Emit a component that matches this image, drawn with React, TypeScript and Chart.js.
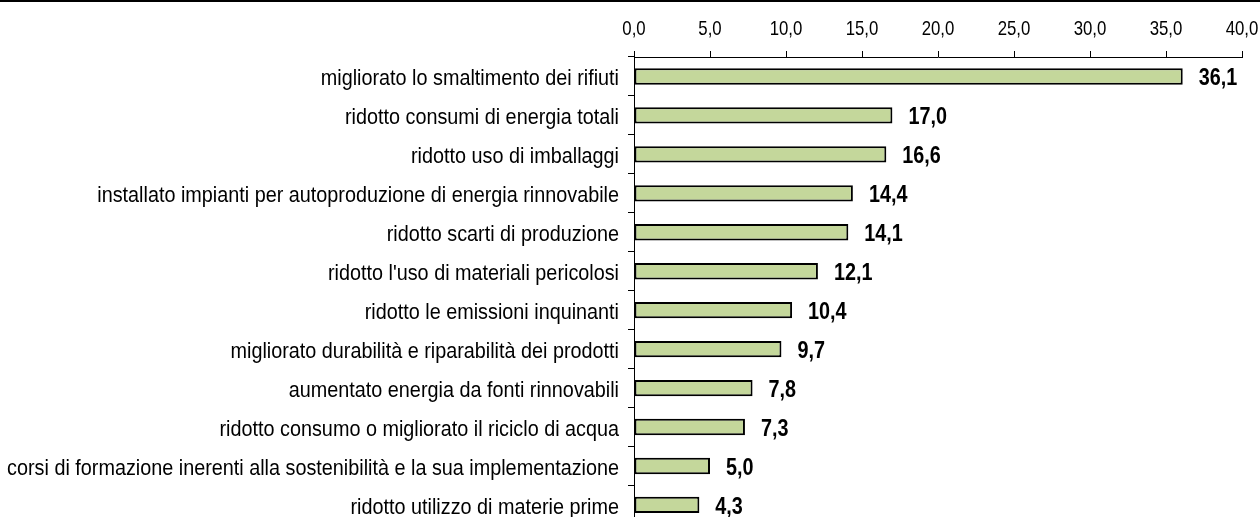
import React, { useEffect, useRef } from "react";
import { Chart, registerables } from "chart.js";

Chart.register(...registerables);

const categories: string[] = [
  "migliorato lo smaltimento dei rifiuti",
  "ridotto consumi di energia totali",
  "ridotto uso di imballaggi",
  "installato impianti per autoproduzione di energia rinnovabile",
  "ridotto scarti di produzione",
  "ridotto l'uso di materiali pericolosi",
  "ridotto le emissioni inquinanti",
  "migliorato durabilità e riparabilità dei prodotti",
  "aumentato energia da fonti rinnovabili",
  "ridotto consumo o migliorato il riciclo di acqua",
  "corsi di formazione inerenti alla sostenibilità e la sua implementazione",
  "ridotto utilizzo di materie prime",
];

const values: number[] = [36.1, 17.0, 16.6, 14.4, 14.1, 12.1, 10.4, 9.7, 7.8, 7.3, 5.0, 4.3];

const xMin = 0;
const xMax = 40;
const xStep = 5;

const FONT = "'Liberation Sans', Arial, sans-serif";

const fmt = (v: number) => v.toFixed(1).replace(".", ",");

function narrowText(ctx: any, text: string, x: number, y: number, sx: number, align: string) {
  ctx.save();
  ctx.translate(x, y);
  ctx.scale(sx, 1);
  ctx.textAlign = align;
  ctx.textBaseline = "alphabetic";
  ctx.fillText(text, 0, 0);
  ctx.restore();
}

const extras = {
  id: "extras",
  afterDraw(chart: any) {
    const ctx = chart.ctx;
    ctx.save();
    ctx.fillStyle = "#000";
    // top border line
    ctx.fillRect(0, 0, chart.width, 2);

    // x tick labels
    const xs = chart.scales.x;
    ctx.font = `21px ${FONT}`;
    xs.ticks.forEach((t: any) => {
      narrowText(ctx, fmt(t.value), xs.getPixelForValue(t.value), 35, 0.8, "center");
    });

    // y category labels
    const ys = chart.scales.y;
    ctx.font = `22px ${FONT}`;
    categories.forEach((c, i) => {
      narrowText(ctx, c, 619, ys.getPixelForTick(i) + 9, 0.9, "right");
    });

    // data labels
    const meta = chart.getDatasetMeta(0);
    ctx.font = `bold 23px ${FONT}`;
    meta.data.forEach((bar: any, i: number) => {
      narrowText(ctx, fmt(values[i]), bar.x + 16, bar.y + 9, 0.86, "left");
    });
    ctx.restore();
  },
};

export default function App() {
  const ref = useRef<HTMLCanvasElement | null>(null);
  useEffect(() => {
    if (!ref.current) return;
    const chart = new Chart(ref.current, {
      type: "bar",
      data: {
        labels: categories,
        datasets: [
          {
            data: values,
            backgroundColor: "#c4d79b",
            borderColor: "#000",
            borderWidth: 2,
            borderSkipped: false,
            categoryPercentage: 1,
            barPercentage: 0.42,
          },
        ],
      },
      options: {
        indexAxis: "y",
        animation: false,
        responsive: false,
        maintainAspectRatio: false,
        layout: { padding: { top: 0, right: 18, bottom: 0, left: 0 } },
        plugins: { legend: { display: false }, tooltip: { enabled: false } },
        scales: {
          x: {
            position: "top",
            min: xMin,
            max: xMax,
            ticks: {
              stepSize: xStep,
              color: "rgba(0,0,0,0)",
              font: { family: FONT, size: 1 },
              padding: 0,
              maxRotation: 0,
              callback: (v: any) => fmt(Number(v)),
            },
            grid: {
              drawOnChartArea: false,
              drawTicks: true,
              tickLength: 6,
              color: "#000",
              lineWidth: 1,
            },
            border: { display: true, color: "#000", width: 1 },
            afterFit: (scale: any) => {
              scale.height = 57;
            },
          },
          y: {
            ticks: {
              color: "rgba(0,0,0,0)",
              font: { family: FONT, size: 1 },
              padding: 11,
              autoSkip: false,
            },
            grid: {
              offset: true,
              drawOnChartArea: false,
              drawTicks: true,
              tickLength: 6,
              color: "#000",
              lineWidth: 1,
            },
            border: { display: true, color: "#000", width: 1 },
            afterFit: (scale: any) => {
              scale.width = 634;
            },
          },
        },
      },
      plugins: [extras],
    });
    return () => chart.destroy();
  }, []);
  return (
    <div
      style={{
        position: "fixed",
        top: 0,
        left: 0,
        width: 1260,
        height: 517,
        overflow: "hidden",
        background: "#fff",
      }}
    >
      <canvas ref={ref} width={1260} height={536} style={{ display: "block" }} />
    </div>
  );
}
